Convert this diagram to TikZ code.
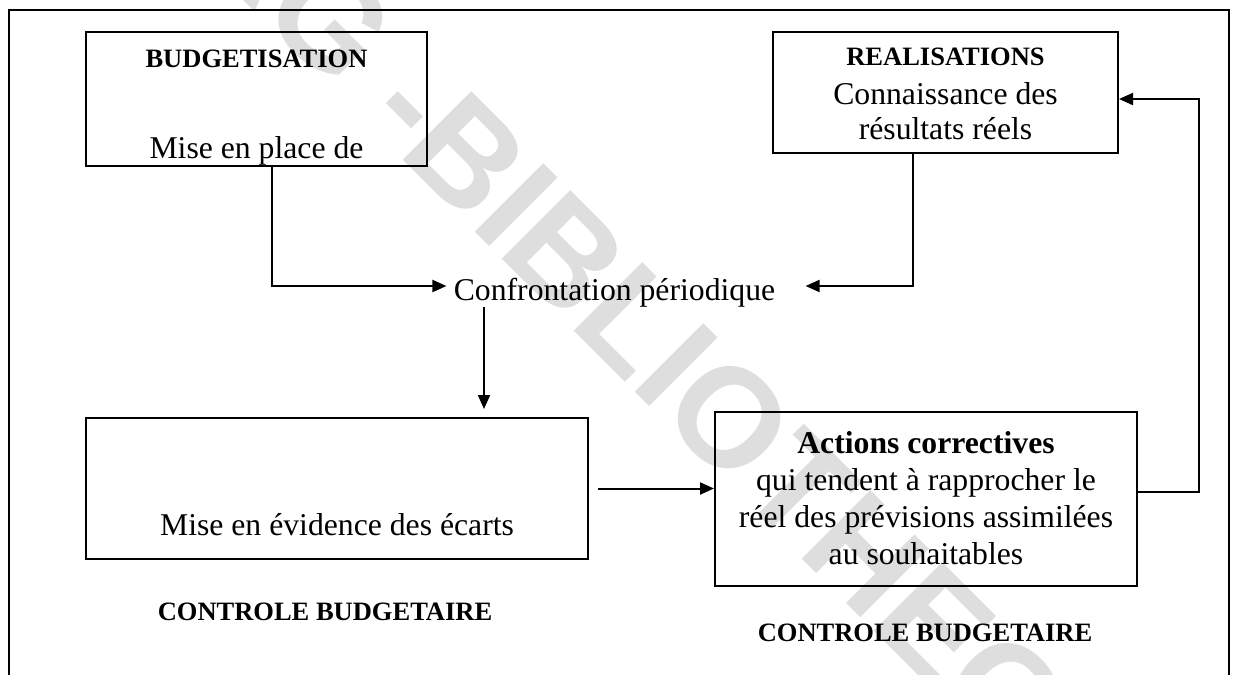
\documentclass[tikz,border=0pt]{standalone}
\usepackage{fontspec}
\setmainfont{Liberation Serif}
\newfontfamily\wmfont{Liberation Sans}
\usetikzlibrary{arrows.meta}

\begin{document}
\begin{tikzpicture}[x=0.5pt,y=-0.5pt,
  box/.style={draw,line width=1pt,inner sep=0pt},
  txt/.style={font=\fontsize{15.85}{17.5}\selectfont,inner sep=0pt,align=center},
  lab/.style={font=\fontsize{13.25}{15}\selectfont\bfseries,inner sep=0pt},
  wm/.style={font=\wmfont\bfseries\fontsize{70.5}{80}\selectfont,text=black!13,rotate=-45,inner sep=0pt},
  conn/.style={line width=1pt,-{Triangle[length=7pt,width=6pt]}}]
  \useasboundingbox (0,0) rectangle (1233,675);

  % filigrane
  \node[wm,anchor=base west] (wmright) at (396,153) {BIBLIOTHEQUE};
  \node[wm,anchor=base east] (wmleft) at (wmright.base west) {CESAG -\ };

  \draw[line width=1pt] (9,675) -- (9,10) -- (1229,10) -- (1229,675);

  % cadres
  \node[box,minimum width=170.5pt,minimum height=67pt] (budget) at (256.5,99) {};
  \node[box,minimum width=172.5pt,minimum height=60.5pt] (realis) at (945.5,92.5) {};
  \node[box,minimum width=251pt,minimum height=70.5pt] (ecarts) at (337,488.5) {};
  \node[box,minimum width=211pt,minimum height=87pt] (actions) at (926,499) {};

  % textes
  \node[lab,anchor=base] (budgettitle) at (256.5,67) {BUDGETISATION};
  \begin{scope}
    \clip (budget.south west) rectangle (budget.north east);
    \node[txt,anchor=base] (budgettext) at (256.5,158) {Mise en place de};
  \end{scope}
  \node[lab,anchor=base] (realtitle) at (945.5,65) {REALISATIONS};
  \node[txt,anchor=base] (realtext) at (945.5,139) {Connaissance des\\résultats réels};
  \node[txt,anchor=base] (confront) at (614.5,300) {Confrontation périodique};
  \node[txt,anchor=base] (ecartstext) at (337,535) {Mise en évidence des écarts};
  \node[txt,anchor=base,font=\fontsize{15.85}{18.5}\selectfont] (actionstext) at (926,564)
    {\textbf{Actions correctives}\\qui tendent à rapprocher le\\réel des prévisions assimilées\\au souhaitables};
  \node[lab,anchor=base] (ctrlleft) at (325,620) {CONTROLE BUDGETAIRE};
  \node[lab,anchor=base] (ctrlright) at (925,641) {CONTROLE BUDGETAIRE};

  % fleches
  \draw[conn] ([xshift=7.75pt]budget.south) |- ([xshift=-3.5pt,yshift=7pt]confront.base west);
  \draw[conn] ([xshift=-16.25pt]realis.south) |- ([xshift=15pt,yshift=7pt]confront.base east);
  \coordinate (dropend) at ([xshift=73.5pt,yshift=4pt]ecarts.north);
  \draw[conn] (confront.south -| dropend) -- (dropend);
  \draw[conn] ([xshift=4.5pt]ecarts.east) -- (ecarts.east -| actions.west);
  \coordinate (loopc) at (1199,99);
  \draw[conn] ([yshift=3.5pt]actions.east) -| (loopc) -- (loopc -| realis.east);
\end{tikzpicture}
\end{document}
